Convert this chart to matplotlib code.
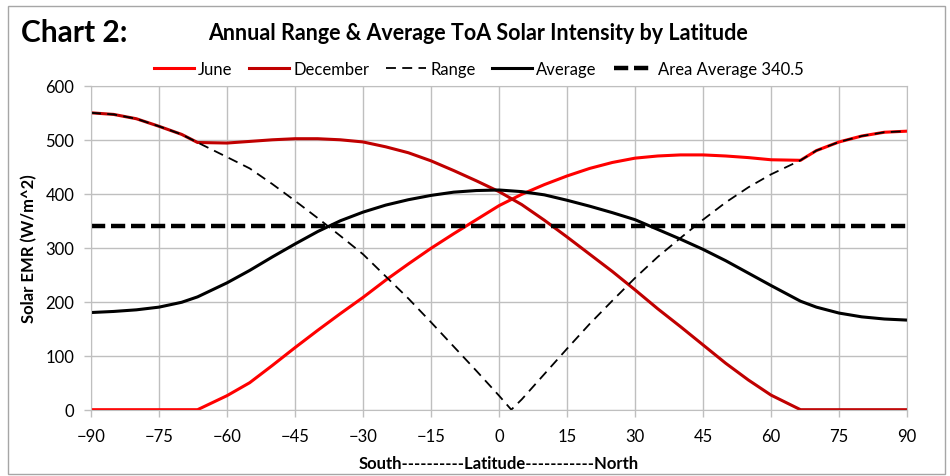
import matplotlib.pyplot as plt
from matplotlib.patches import Rectangle

plt.rcParams['font.family'] = ['Lato', 'DejaVu Sans']

# latitude points (deg) shared by the June / December / Average series
lat = [-90, -85, -80, -75, -70, -66.5, -60, -55, -50, -45, -40, -35, -30, -25,
       -20, -15, -10, -5, 0, 5, 10, 15, 20, 25, 30, 35, 40, 45, 50, 55, 60,
       66.5, 70, 75, 80, 85, 90]

june = [0, 0, 0, 0, 0, 0, 26, 50, 82, 115, 147, 178, 208, 240, 270, 299, 326,
        352, 378, 399, 417, 433, 447, 458, 466, 470, 472, 472, 470, 467, 463,
        462, 480, 496, 507, 514, 516]

december = [550, 547, 539, 525, 510, 495, 494, 497, 500, 502, 502, 500, 496,
            487, 476, 461, 443, 424, 404, 380, 351, 320, 288, 256, 222, 187,
            154, 120, 86, 55, 27, 0, 0, 0, 0, 0, 0]

average = [180, 182, 185, 190, 199, 209, 235, 258, 283, 307, 330, 350, 366,
           379, 389, 397, 403, 406, 407, 404, 398, 388, 377, 365, 352, 334,
           316, 297, 276, 253, 230, 201, 190, 179, 172, 168, 166]

# range has an extra point where June and December cross
lat_range = [-90, -85, -80, -75, -70, -66.5, -60, -55, -50, -45, -40, -35, -30,
             -25, -20, -15, -10, -5, 0, 2.7, 5, 10, 15, 20, 25, 30, 35, 40, 45,
             50, 55, 60, 66.5, 70, 75, 80, 85, 90]
rng = [550, 547, 539, 525, 510, 495, 468, 447, 418, 387, 355, 322, 288, 247,
       206, 162, 117, 72, 26, 0, 19, 66, 113, 159, 202, 244, 283, 318, 352,
       384, 412, 436, 462, 480, 496, 507, 514, 516]

area_avg = 340.5
lat_ends = [-90, 90]

xticks = list(range(-90, 91, 15))
yticks = list(range(0, 601, 100))

fig = plt.figure(figsize=(9.5, 4.77), dpi=100)
ax = fig.add_axes([0.0958, 0.139, 0.859, 0.679])

ax.plot(lat, june, color='#FF0000', lw=2.2, solid_joinstyle='round', label='June')
ax.plot(lat, december, color='#C00000', lw=2.2, solid_joinstyle='round',
        label='December')
ax.plot(lat_range, rng, color='black', lw=1.3, dashes=(5.5, 3.5), label='Range')
ax.plot(lat, average, color='black', lw=2.2, solid_joinstyle='round', label='Average')
ax.plot(lat_ends, [area_avg, area_avg], color='black', lw=3.2, dashes=(3.2, 1.3),
        label='Area Average 340.5')

ax.set_xlim(-90, 90)
ax.set_ylim(0, 600)
ax.set_xticks(xticks)
ax.set_yticks(yticks)
ax.grid(True, color='#BFBFBF', lw=1)
ax.set_axisbelow(True)
for s in ax.spines.values():
    s.set_color('#BFBFBF')
ax.tick_params(color='#BFBFBF', length=5, width=1, labelsize=12)
ax.tick_params(axis='x', pad=8)
ax.tick_params(axis='y', pad=7)

ax.set_ylabel('Solar EMR (W/m^2)', fontsize=12, fontweight='bold', labelpad=6)
ax.set_xlabel('South----------Latitude-----------North', fontsize=12,
              fontweight='bold', labelpad=8)

ax.legend(loc='lower center', bbox_to_anchor=(0.475, 1.0), ncol=5, frameon=False,
          fontsize=12, handlelength=2.4, columnspacing=1.0, handletextpad=0.25,
          borderaxespad=0.15)

fig.text(0.022, 0.93, 'Chart 2:', fontsize=21.5, fontweight='bold', va='center')
fig.text(0.503, 0.93, 'Annual Range & Average ToA Solar Intensity by Latitude',
         fontsize=15.5, fontweight='bold', ha='center', va='center')

fig.patches.append(Rectangle((0.008, 0.004), 0.987, 0.982, transform=fig.transFigure,
                             fill=False, edgecolor='#A6A6A6', lw=1))

fig.savefig('out.png', dpi=100)
